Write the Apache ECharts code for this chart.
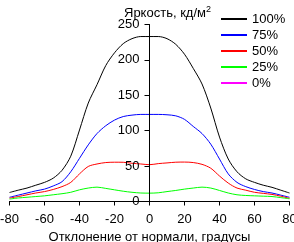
<!DOCTYPE html>
<html>
<head>
<meta charset="utf-8">
<script src="https://cdn.jsdelivr.net/npm/echarts@6/dist/echarts.min.js"></script>
<style>
html, body { margin: 0; padding: 0; background: #fff; }
#main { width: 294px; height: 242px; }
</style>
</head>
<body>
<div id="main"></div>
<script>
// углы отклонения, градусы
var angles = [-80, -75, -70, -65, -60, -55, -50, -45, -40, -35, -30, -25, -20, -15, -10, -5, 0,
              5, 10, 15, 20, 25, 30, 35, 40, 45, 50, 55, 60, 65, 70, 75, 80];

// яркость, кд/м2
var lum100 = [12.7, 16, 19, 23, 27, 33, 44, 64, 101, 139, 165, 192, 210, 223, 230, 233, 233,
              233, 230, 222, 208, 188, 166, 132, 91, 60, 42, 32, 27, 23, 20, 16, 12];
var lum75 = [6, 9, 12, 15, 17.5, 22, 28, 42, 61, 80, 96, 107, 115, 120, 122, 123, 123,
             123, 122.5, 121, 116, 106, 96, 81, 60, 39, 27, 21, 17, 14, 12, 9, 6];
var lum50 = [4.8, 7, 9.5, 12, 14, 17, 21, 27, 39, 49.5, 53, 55, 55.5, 55.4, 54, 53, 52,
             53.5, 54.5, 55.5, 55.7, 55, 52.5, 47, 36, 26, 19, 16, 13, 11.5, 10, 7.5, 4.5];
var lum25 = [3.4, 5, 6, 7, 8, 9.5, 11, 13, 16.5, 19, 20.3, 18.5, 16.5, 14.5, 13, 12, 11.8,
             12.3, 14, 15.6, 17.5, 19, 20.3, 19, 15.6, 12, 9.5, 8.5, 8, 7.5, 7, 5.5, 3.8];
var lum0 = [0, 0, 0, 0, 0, 0, 0, 0, 0, 0, 0, 0, 0, 0, 0, 0, 0,
            0, 0, 0, 0, 0, 0, 0, 0, 0, 0, 0, 0, 0, 0, 0, 0];

var names = ['100%', '75%', '50%', '25%', '0%'];
var colors = ['#000000', '#0000ff', '#ff0000', '#00ff00', '#ff00ff'];
var values = [lum100, lum75, lum50, lum25, lum0];

var FONT = 'Liberation Sans';

function pairs(ys) {
    return angles.map(function (a, i) { return [a, ys[i]]; });
}

var series = names.map(function (n, i) {
    return {
        name: n,
        type: 'line',
        data: pairs(values[i]),
        symbol: 'none',
        smooth: 0.3,
        z: i === 4 ? 0 : 2,
        lineStyle: { color: colors[i], width: 1 },
        itemStyle: { color: colors[i] }
    };
});

// легенда: тонкий прямоугольник цвета серии
var legendItems = names.map(function (n, i) {
    return {
        name: n,
        icon: 'rect',
        itemStyle: { color: colors[i], borderColor: colors[i], borderWidth: 0, opacity: 1 }
    };
});

var chart = echarts.init(document.getElementById('main'));
chart.setOption({
    animation: false,
    backgroundColor: '#ffffff',
    textStyle: { fontFamily: FONT },
    title: {
        text: '{a|Яркость, кд/м}{s|2}',
        left: 119,
        top: 0,
        textStyle: {
            fontWeight: 'normal',
            rich: {
                a: { fontFamily: FONT, fontSize: 13, fontWeight: 'normal', color: '#000' },
                s: { fontFamily: FONT, fontSize: 9, fontWeight: 'normal', color: '#000', padding: [0, 0, 7, 0] }
            }
        }
    },
    legend: {
        orient: 'vertical',
        left: 216,
        top: 7,
        itemWidth: 26,
        itemHeight: 2,
        itemGap: 2,
        data: legendItems,
        textStyle: { fontFamily: FONT, fontSize: 13, color: '#000', lineHeight: 14 }
    },
    grid: { left: 9.5, right: 4.5, top: 24.5, bottom: 40.5, containLabel: false, outerBoundsMode: 'none' },
    xAxis: {
        type: 'value',
        min: -80,
        max: 80,
        interval: 20,
        z: 5,
        name: 'Отклонение от нормали, градусы',
        nameLocation: 'middle',
        nameGap: 29,
        nameTextStyle: { fontFamily: FONT, fontSize: 13, color: '#000' },
        axisLine: { onZero: false, lineStyle: { color: '#000', width: 1 } },
        axisTick: { length: 4, lineStyle: { color: '#000' } },
        axisLabel: { fontFamily: FONT, fontSize: 13, color: '#000', margin: 11 },
        splitLine: { show: false }
    },
    yAxis: {
        type: 'value',
        min: 0,
        max: 250,
        interval: 50,
        z: 5,
        offset: -140,
        axisLine: { show: true, onZero: false, lineStyle: { color: '#000', width: 1 } },
        axisTick: { show: true, length: 5, lineStyle: { color: '#000' } },
        axisLabel: { fontFamily: FONT, fontSize: 13, color: '#000', margin: 10 },
        splitLine: { show: false }
    },
    series: series
});
</script>
</body>
</html>
